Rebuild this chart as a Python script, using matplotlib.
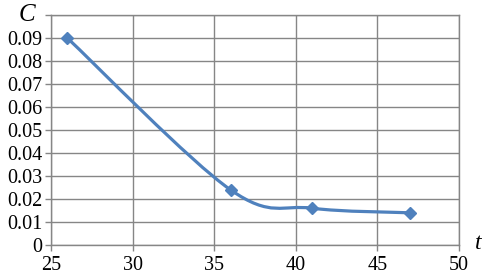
import numpy as np
import matplotlib
matplotlib.use("Agg")
import matplotlib.pyplot as plt
from matplotlib.path import Path
from matplotlib.patches import PathPatch

t_vals = [26, 36, 41, 47]
c_vals = [0.09, 0.024, 0.016, 0.014]
x_ticks = [25, 30, 35, 40, 45, 50]
y_ticks = [0, 0.01, 0.02, 0.03, 0.04, 0.05, 0.06, 0.07, 0.08, 0.09, 0.1]
y_labels = ["0", "0.01", "0.02", "0.03", "0.04", "0.05", "0.06", "0.07", "0.08", "0.09", ""]

plt.rcParams['font.family'] = ['Liberation Serif', 'DejaVu Serif']

fig = plt.figure(figsize=(5.02, 2.77), dpi=100)
ax = fig.add_axes([0.1016, 0.1155, 0.8127, 0.8303])

blue = '#4f81bd'

# smoothed line like Excel: cubic bezier segments with catmull-rom style handles
pts = np.column_stack([t_vals, c_vals])
verts = [tuple(pts[0])]
codes = [Path.MOVETO]
n = len(pts)
for i in range(n - 1):
    p0 = pts[max(i - 1, 0)]
    p1 = pts[i]
    p2 = pts[i + 1]
    p3 = pts[min(i + 2, n - 1)]
    c1 = p1 + (p2 - p0) / 6
    c2 = p2 - (p3 - p1) / 6
    verts += [tuple(c1), tuple(c2), tuple(p2)]
    codes += [Path.CURVE4] * 3
ax.add_patch(PathPatch(Path(verts, codes), fill=False, edgecolor=blue, lw=2.3, zorder=3))
ax.plot(t_vals, c_vals, linestyle='none', marker='D', ms=6, color=blue, zorder=4)

ax.set_xlim(25, 50)
ax.set_ylim(0, 0.1)
ax.set_xticks(x_ticks)
ax.set_yticks(y_ticks)
ax.set_yticklabels(y_labels)
ax.grid(True, color='#868686', lw=1)
ax.set_axisbelow(True)
for s in ax.spines.values():
    s.set_color('#868686')
    s.set_linewidth(1)
ax.tick_params(axis='both', colors='#868686', labelcolor='black', labelsize=14.5, length=4, width=1)
ax.tick_params(axis='y', pad=2)
ax.tick_params(axis='x', pad=4)

fig.text(0.038, 0.945, 'C', fontsize=18, style='italic', va='center')
fig.text(0.946, 0.12, 't', fontsize=17, style='italic', va='center')

fig.savefig('out.png', dpi=100)
